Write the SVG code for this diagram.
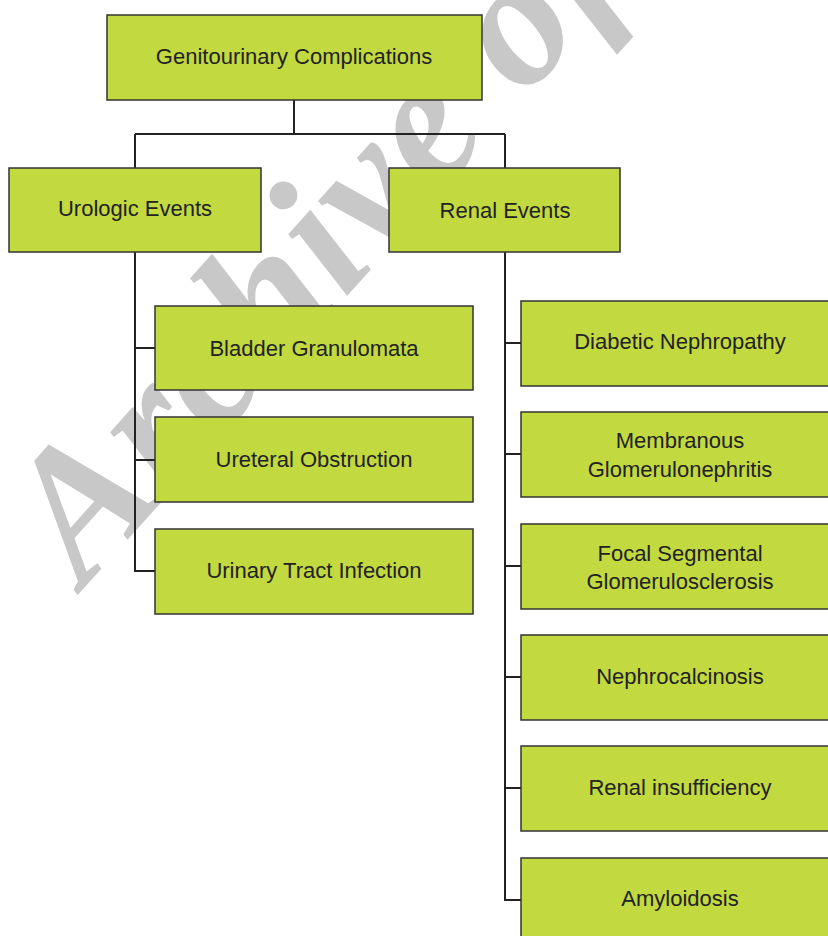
<svg xmlns="http://www.w3.org/2000/svg" width="828" height="936" viewBox="0 0 828 936">
<style>
.box{fill:#c2d940;stroke:#333;stroke-width:1.5}
.lbl{font-family:"Liberation Sans",Arial,sans-serif;font-size:22px;fill:#222;text-anchor:middle;dominant-baseline:central}
.wm{font-family:"Liberation Serif","Times New Roman",serif;font-weight:bold;font-style:italic;font-size:185px;fill:#c8c8c8;letter-spacing:2px}
.con{fill:none;stroke:#222;stroke-width:2}
</style>
<rect width="828" height="936" fill="#fff"/>
<text class="wm" transform="translate(84,588) rotate(-48)">Archive of</text>
<g id="connectors">
<path class="con" d="M294 100V134M135 134H505M135 134V168M505 134V168"/>
<path class="con" d="M135 252V571H155M135 348H155M135 460H155"/>
<path class="con" d="M505 252V900H521M505 343H521M505 454H521M505 566H521M505 677H521M505 788H521"/>
</g>
<g id="genitourinary"><rect class="box" x="107" y="15" width="375" height="85"/><text class="lbl" x="294" y="56">Genitourinary Complications</text></g>
<g id="urologic"><rect class="box" x="9" y="168" width="252" height="84"/><text class="lbl" x="135" y="208">Urologic Events</text></g>
<g id="renal"><rect class="box" x="389" y="168" width="231" height="84"/><text class="lbl" x="505" y="210">Renal Events</text></g>
<g id="bladder"><rect class="box" x="155" y="306" width="318" height="84"/><text class="lbl" x="314" y="348">Bladder Granulomata</text></g>
<g id="ureteral"><rect class="box" x="155" y="417" width="318" height="85"/><text class="lbl" x="314" y="459">Ureteral Obstruction</text></g>
<g id="uti"><rect class="box" x="155" y="529" width="318" height="85"/><text class="lbl" x="314" y="570">Urinary Tract Infection</text></g>
<g id="diabetic"><rect class="box" x="521" y="301" width="330" height="85"/><text class="lbl" x="680" y="341">Diabetic Nephropathy</text></g>
<g id="membranous"><rect class="box" x="521" y="412" width="330" height="85"/><text class="lbl" x="680" y="440">Membranous</text><text class="lbl" x="680" y="469">Glomerulonephritis</text></g>
<g id="focal"><rect class="box" x="521" y="524" width="330" height="85"/><text class="lbl" x="680" y="553">Focal Segmental</text><text class="lbl" x="680" y="581">Glomerulosclerosis</text></g>
<g id="nephrocalcinosis"><rect class="box" x="521" y="635" width="330" height="85"/><text class="lbl" x="680" y="676">Nephrocalcinosis</text></g>
<g id="insufficiency"><rect class="box" x="521" y="746" width="330" height="85"/><text class="lbl" x="680" y="787">Renal insufficiency</text></g>
<g id="amyloidosis"><rect class="box" x="521" y="858" width="330" height="100"/><text class="lbl" x="680" y="898">Amyloidosis</text></g>
</svg>
